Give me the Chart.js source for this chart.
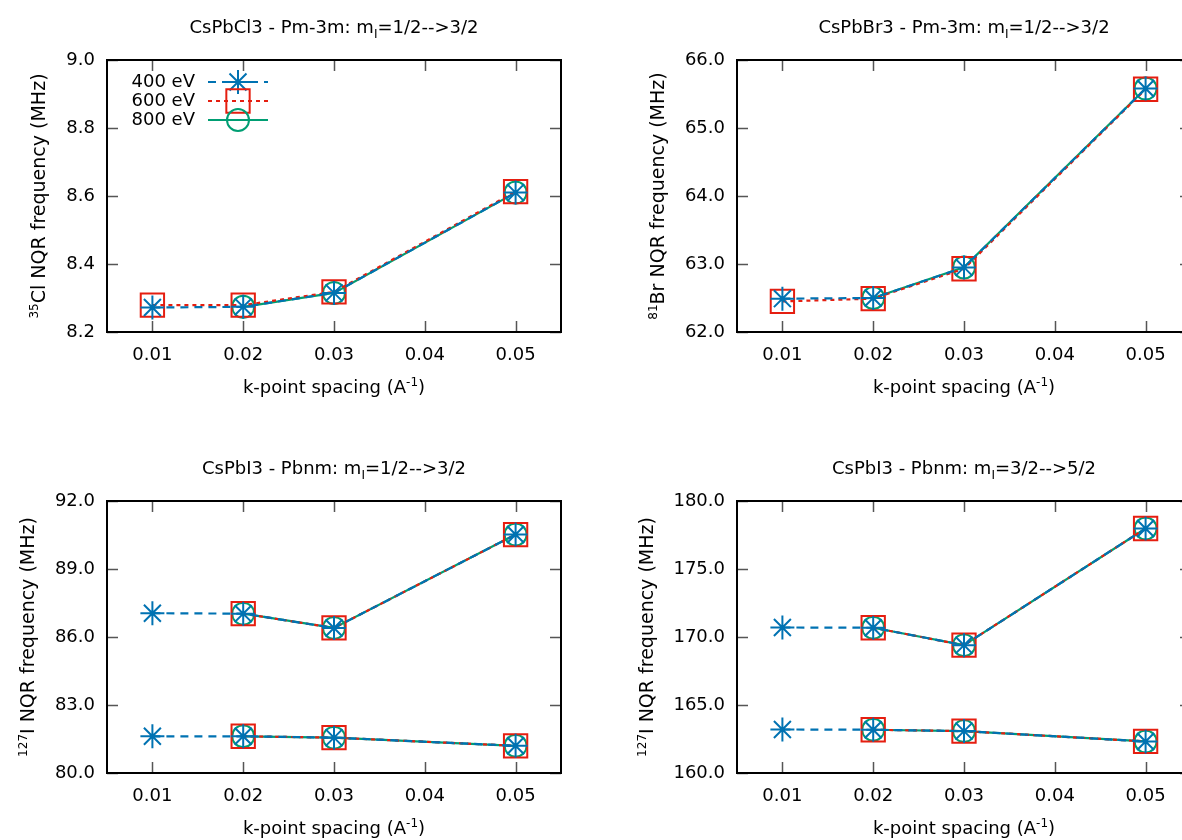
<!DOCTYPE html>
<html>
<head>
<meta charset="utf-8">
<script src="https://cdn.jsdelivr.net/npm/chart.js@4.4.0/dist/chart.umd.min.js"></script>
<style>
  html, body { margin: 0; padding: 0; background: #fff; overflow: hidden; }
  #page { position: relative; width: 1182px; height: 840px; overflow: hidden; }
  .panel { position: absolute; width: 630px; height: 420px; }
  .panel canvas { position: absolute; left: 0; top: 0; }
  .txt { position: absolute; font-family: 'DejaVu Sans', sans-serif; font-size: 18px; line-height: 20px;
         color: #000; white-space: nowrap; text-align: center; }
  .ytitle { width: 272px; height: 20px; font-size: 19px; transform: rotate(-90deg); }
  sup, sub { font-size: 12px; line-height: 0; }
</style>
</head>
<body>
<div id="page"></div>
<script>
// k-point spacing where values were computed
const kSpacing = [0.01, 0.02, 0.03, 0.05];
const kTicks = [0.01, 0.02, 0.03, 0.04, 0.05];
const kTickLabels = ['0.01', '0.02', '0.03', '0.04', '0.05'];
const cutoffs = ['400 eV', '600 eV', '800 eV'];

// CsPbCl3 - Pm-3m, 35Cl
const cl400 = [8.272, 8.274, 8.315, 8.610];
const cl600 = [8.279, 8.279, 8.318, 8.613];
const cl800 = [null, 8.274, 8.315, 8.610];
const clTicks = [8.2, 8.4, 8.6, 8.8, 9.0];
const clTickLabels = ['8.2', '8.4', '8.6', '8.8', '9.0'];

// CsPbBr3 - Pm-3m, 81Br
const br400 = [62.49, 62.50, 62.95, 65.58];
const br600 = [62.45, 62.49, 62.93, 65.57];
const br800 = [null, 62.50, 62.95, 65.58];
const brTicks = [62, 63, 64, 65, 66];
const brTickLabels = ['62.0', '63.0', '64.0', '65.0', '66.0'];

// CsPbI3 - Pbnm, 127I, mI=1/2-->3/2 (two iodine sites)
const ia400hi = [87.05, 87.03, 86.40, 90.52];
const ia600hi = [null, 87.03, 86.40, 90.52];
const ia800hi = [null, 87.03, 86.40, 90.52];
const ia400lo = [81.62, 81.62, 81.56, 81.20];
const ia600lo = [null, 81.62, 81.56, 81.20];
const ia800lo = [null, 81.62, 81.56, 81.20];
const iaTicks = [80, 83, 86, 89, 92];
const iaTickLabels = ['80.0', '83.0', '86.0', '89.0', '92.0'];

// CsPbI3 - Pbnm, 127I, mI=3/2-->5/2 (two iodine sites)
const ib400hi = [170.70, 170.68, 169.40, 177.98];
const ib600hi = [null, 170.68, 169.40, 177.98];
const ib800hi = [null, 170.68, 169.40, 177.98];
const ib400lo = [163.20, 163.18, 163.08, 162.32];
const ib600lo = [null, 163.18, 163.08, 162.32];
const ib800lo = [null, 163.18, 163.08, 162.32];
const ibTicks = [160, 165, 170, 175, 180];
const ibTickLabels = ['160.0', '165.0', '170.0', '175.0', '180.0'];

// line / point styles for the three cutoffs
const styles = [
  { color: '#0072b2', dash: [8, 6], point: 'star', radius: 12 },
  { color: '#e51e10', dash: [4, 4], point: 'rect', radius: 16.5 },
  { color: '#009e73', dash: [], point: 'circle', radius: 11 }
];

Chart.defaults.font.family = "'DejaVu Sans', sans-serif";
Chart.defaults.font.size = 18;
Chart.defaults.color = '#000';

function makeSet(values, s) {
  const st = styles[s];
  return {
    label: cutoffs[s],
    data: kSpacing.map((x, i) => ({ x: x, y: values[i] })).filter(p => p.y !== null),
    borderColor: st.color,
    borderWidth: 2.2,
    borderDash: st.dash,
    pointStyle: st.point,
    pointRadius: st.radius,
    pointHoverRadius: st.radius,
    pointBorderWidth: 2,
    pointBorderColor: st.color,
    pointBackgroundColor: 'rgba(0,0,0,0)',
    tension: 0,
    fill: false
  };
}

// gnuplot-like frame with inward ticks on all sides
const framePlugin = {
  id: 'frame',
  beforeDatasetsDraw(chart) {
    const { ctx, chartArea: a, scales: { x, y } } = chart;
    ctx.save();
    ctx.strokeStyle = '#555';
    ctx.lineWidth = 1.5;
    ctx.beginPath();
    x.ticks.forEach(t => {
      const px = Math.round(x.getPixelForValue(t.value)) + 0.5;
      ctx.moveTo(px, a.bottom); ctx.lineTo(px, a.bottom - 11);
      ctx.moveTo(px, a.top); ctx.lineTo(px, a.top + 11);
    });
    y.ticks.forEach(t => {
      const py = Math.round(y.getPixelForValue(t.value)) + 0.5;
      ctx.moveTo(a.left, py); ctx.lineTo(a.left + 11, py);
      ctx.moveTo(a.right, py); ctx.lineTo(a.right - 11, py);
    });
    ctx.stroke();
    ctx.strokeStyle = '#000';
    ctx.lineWidth = 2;
    ctx.strokeRect(a.left, a.top, a.width, a.height);
    ctx.restore();
  }
};

const legendPlugin = {
  id: 'gpLegend',
  afterDatasetsDraw(chart, args, opts) {
    if (!opts.show) return;
    const ctx = chart.ctx;
    ctx.save();
    cutoffs.forEach((name, i) => {
      const st = styles[i];
      const ry = 82 + i * 19;
      ctx.font = "18px 'DejaVu Sans', sans-serif";
      ctx.fillStyle = '#000';
      ctx.textAlign = 'right';
      ctx.textBaseline = 'middle';
      ctx.fillText(name, 195, ry);
      ctx.strokeStyle = st.color;
      ctx.lineWidth = 2;
      ctx.setLineDash(st.dash);
      ctx.beginPath();
      ctx.moveTo(208, ry); ctx.lineTo(268, ry);
      ctx.stroke();
      ctx.setLineDash([]);
      ctx.fillStyle = 'rgba(0,0,0,0)';
      Chart.helpers.drawPoint(ctx, { pointStyle: st.point, radius: st.radius, borderWidth: 2, rotation: 0 }, 238, ry);
    });
    ctx.restore();
  }
};

const panels = [
  { left: 0, top: 0, rowTop: 60, yMin: 8.2, yMax: 9.0, yTicks: clTicks, yLabels: clTickLabels,
    sets: [[cl400, 0], [cl600, 1], [cl800, 2]], legend: true,
    title: 'CsPbCl3 - Pm-3m: m<sub>I</sub>=1/2--&gt;3/2', ytitle: '<sup>35</sup>Cl NQR frequency (MHz)', yBase: 45 },
  { left: 630, top: 0, rowTop: 60, yMin: 62, yMax: 66, yTicks: brTicks, yLabels: brTickLabels,
    sets: [[br400, 0], [br600, 1], [br800, 2]], legend: false,
    title: 'CsPbBr3 - Pm-3m: m<sub>I</sub>=1/2--&gt;3/2', ytitle: '<sup>81</sup>Br NQR frequency (MHz)', yBase: 34 },
  { left: 0, top: 420, rowTop: 81, yMin: 80, yMax: 92, yTicks: iaTicks, yLabels: iaTickLabels,
    sets: [[ia400hi, 0], [ia400lo, 0], [ia600hi, 1], [ia600lo, 1], [ia800hi, 2], [ia800lo, 2]], legend: false,
    title: 'CsPbI3 - Pbnm: m<sub>I</sub>=1/2--&gt;3/2', ytitle: '<sup>127</sup>I NQR frequency (MHz)', yBase: 34 },
  { left: 630, top: 420, rowTop: 81, yMin: 160, yMax: 180, yTicks: ibTicks, yLabels: ibTickLabels,
    sets: [[ib400hi, 0], [ib400lo, 0], [ib600hi, 1], [ib600lo, 1], [ib800hi, 2], [ib800lo, 2]], legend: false,
    title: 'CsPbI3 - Pbnm: m<sub>I</sub>=3/2--&gt;5/2', ytitle: '<sup>127</sup>I NQR frequency (MHz)', yBase: 23 }
];

const page = document.getElementById('page');

panels.forEach(p => {
  const box = document.createElement('div');
  box.className = 'panel';
  box.style.left = p.left + 'px';
  box.style.top = p.top + 'px';
  const canvas = document.createElement('canvas');
  canvas.width = 630;
  canvas.height = 420;
  box.appendChild(canvas);

  const t = document.createElement('div');
  t.className = 'txt';
  t.style.left = '107px'; t.style.width = '454px';
  t.style.top = (p.rowTop - 43) + 'px';
  t.innerHTML = p.title;
  box.appendChild(t);

  const xt = document.createElement('div');
  xt.className = 'txt';
  xt.style.left = '107px'; xt.style.width = '454px';
  xt.style.top = (p.rowTop + 272 + 45) + 'px';
  xt.innerHTML = 'k-point spacing (A<sup>-1</sup>)';
  box.appendChild(xt);

  const yt = document.createElement('div');
  yt.className = 'txt ytitle';
  const cx = p.yBase - 6.6, cy = p.rowTop + 136;
  yt.style.left = (cx - 136) + 'px';
  yt.style.top = (cy - 10) + 'px';
  yt.innerHTML = p.ytitle;
  box.appendChild(yt);

  page.appendChild(box);

  new Chart(canvas, {
    type: 'line',
    data: { datasets: p.sets.map(s => makeSet(s[0], s[1])) },
    options: {
      responsive: false,
      animation: false,
      devicePixelRatio: 1,
      layout: { padding: { top: p.rowTop, right: 69, left: 0, bottom: 0 } },
      plugins: { legend: { display: false }, tooltip: { enabled: false }, gpLegend: { show: p.legend } },
      scales: {
        x: {
          type: 'linear', min: 0.005, max: 0.055,
          grid: { display: false, drawTicks: false }, border: { display: false },
          afterBuildTicks: s => { s.ticks = kTicks.map(v => ({ value: v })); },
          afterFit: s => { s.height = 420 - p.rowTop - 272; },
          ticks: { autoSkip: false, maxRotation: 0, padding: 13, callback: (v, i) => kTickLabels[i] }
        },
        y: {
          type: 'linear', min: p.yMin, max: p.yMax,
          grid: { display: false, drawTicks: false }, border: { display: false },
          afterBuildTicks: s => { s.ticks = p.yTicks.map(v => ({ value: v })); },
          afterFit: s => { s.width = 107; },
          ticks: { autoSkip: false, padding: 12, callback: (v, i) => p.yLabels[i] }
        }
      }
    },
    plugins: [framePlugin, legendPlugin]
  });
});
</script>
</body>
</html>
